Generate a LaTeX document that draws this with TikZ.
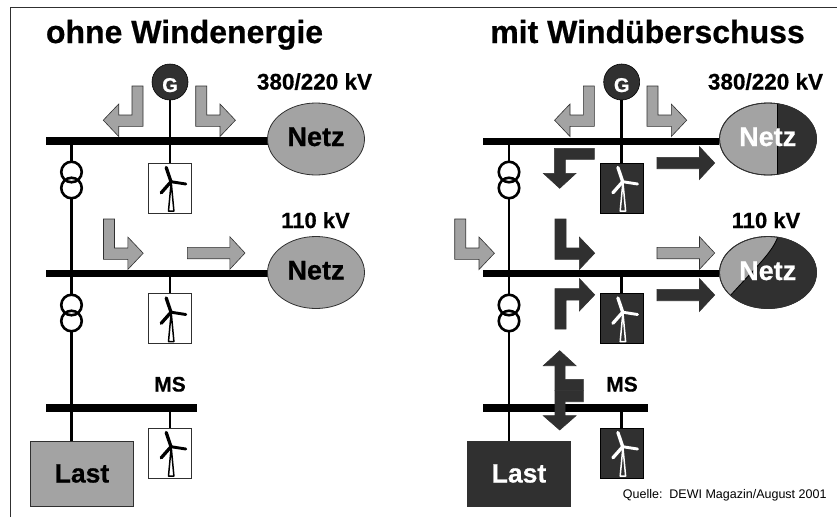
\documentclass[tikz,border=0pt]{standalone}
\usepackage{fontspec}
\setmainfont{Liberation Sans}[BoldFeatures={FakeBold=0.6}]
\definecolor{gr}{HTML}{A3A3A3}
\definecolor{dk}{HTML}{303030}
\usetikzlibrary{shapes.geometric}
\tikzset{
 busbar/.style={fill=black,draw=none,inner sep=0pt,minimum height=7.5pt,rectangle},
 wire/.style={line width=2.6pt,black},
 xfm/.style={circle,draw=black,line width=2.6pt,minimum size=20.5pt,inner sep=0pt,outer sep=0pt},
 grarrow/.style={fill=gr,draw=dk,line width=.6pt,line join=miter},
 dkarrow/.style={fill=dk,draw=dk,line width=.6pt,line join=miter},
 turbbox/.style={rectangle,draw=#1,line width=1pt,minimum width=43pt,minimum height=50pt,inner sep=0pt},
 gen/.style={circle,fill=dk,draw=black,line width=.6pt,minimum size=36pt,inner sep=0pt},
 netz/.style={ellipse,fill=gr,draw=dk,line width=.8pt,minimum width=97pt,minimum height=72pt,inner sep=0pt},
 lastbox/.style={rectangle,draw=dk,line width=.8pt,minimum width=103.5pt,minimum height=65pt,inner sep=0pt},
 lbl/.style={anchor=base,inner sep=0pt,font=\bfseries\fontsize{#1}{#1}\selectfont},
}
% turbine #1 node centre, #2 colour, #3 tower fill
\newcommand\turbine[3]{%
 \begin{scope}[shift={(#1)}]
  \draw[#2,line width=1.5pt,fill=#3,line join=round] (1.2,-6) -- (-1.5,23) -- (3.9,23) -- cycle;
  \draw[#2,line width=3.3pt,line cap=round] (1,-6.3) -- (-3.8,-20.5);
  \draw[#2,line width=2.9pt,line cap=round] (1,-6.3) -- (15.8,-4);
  \draw[#2,line width=3.3pt,line cap=round] (1,-6.3) -- (-8.8,4.8);
 \end{scope}}
\newcommand\bentarrow[5]{% style, x, y, xscale, yscale
 \draw[#1,shift={(#2,#3)},xscale=#4,yscale=#5] (0,0) -- (11,0) -- (11,29) -- (24.3,29) -- (24.3,18) -- (39.7,34.2) -- (24.3,50.5) -- (24.3,40.3) -- (0,40.3) -- cycle;}
\newcommand\straightarrow[3]{% style, x, yc
 \draw[#1,shift={(#2,#3)}] (0,-5.7) -- (42.5,-5.7) -- (42.5,-16.3) -- (57.7,0) -- (42.5,16.3) -- (42.5,5.7) -- (0,5.7) -- cycle;}
\begin{document}
\begin{tikzpicture}[x=1pt,y=-1pt]
\useasboundingbox (0,0) rectangle (837,517);
\fill[white] (0,0) rectangle (837,517);
\draw[line width=.9pt,dk] (10,517) -- (10,7.2) -- (837,7.2);

% titles
\node[lbl=32] (t1) at (184.5,43) {ohne Windenergie};
\node[lbl=32] (t2) at (647.5,43) {mit Windüberschuss};

% ---- left
\node[busbar,minimum width=224pt] (a1) at (158,141) {};
\node[busbar,minimum width=224pt] (a2) at (158,273.5) {};
\node[busbar,minimum width=151pt] (a3) at (121.5,408) {};
\coordinate (a1x) at (71.5,141); \coordinate (a2x) at (71.5,273.5); \coordinate (a3x) at (71.5,408);
\node[gen] (ag) at (170,82) {};
\node[anchor=base,inner sep=0pt,white,font=\bfseries\fontsize{20}{20}\selectfont] (agt) at (170,92) {G};
\node[turbbox=dk,fill=white] (at1) at (170,188) {};
\node[turbbox=dk,fill=white] (at2) at (170,318.5) {};
\node[turbbox=dk,fill=white] (at3) at (170,453) {};
\node[netz] (an1) at (316,139) {};
\node[netz] (an2) at (316,272.5) {};
\node[lastbox,fill=gr] (al) at (82,473.5) {};
\coordinate (alt) at (71.5,441);
\node[xfm] (ax1) at (71.5,172) {}; \node[xfm] (ax2) at (71.5,188) {};
\node[xfm] (ax3) at (71.5,305) {}; \node[xfm] (ax4) at (71.5,321) {};
\draw[wire] (ag) -- (at1);
\draw[wire] (a2.center -| at2) -- (at2);
\draw[wire] (a3.center -| at3) -- (at3);
\draw[wire] (a1x) -- (ax1.north);
\draw[wire] (ax2.south) -- (a2x);
\draw[wire] (a2x) -- (ax3.north);
\draw[wire] (ax4.south) -- (a3x);
\draw[wire] (a3x) -- (alt);
\node[lbl=27] at (316,146) {Netz};
\node[lbl=27] at (316,279.5) {Netz};
\node[lbl=26.5] at (82,482.5) {Last};
\node[lbl=22.5] at (314.5,89.5) {380/220 kV};
\node[lbl=22] at (315.5,228) {110 kV};
\node[lbl=21] at (170,391.5) {MS};
\turbine{at1.center}{black}{white}
\turbine{at2.center}{black}{white}
\turbine{at3.center}{black}{white}
\bentarrow{grarrow}{143}{86}{-1}{1}
\bentarrow{grarrow}{195.7}{86}{1}{1}
\bentarrow{grarrow}{103.5}{219}{1}{1}
\straightarrow{grarrow}{187.3}{253}

% ---- right
\node[busbar,minimum width=236pt] (b1) at (601,141.3) {};
\node[busbar,minimum width=236pt] (b2) at (601,273.7) {};
\node[busbar,minimum width=165pt] (b3) at (565.5,408) {};
\coordinate (b1x) at (509,141); \coordinate (b2x) at (509,273.5); \coordinate (b3x) at (509,408);
\node[gen] (bg) at (621.7,82) {};
\node[anchor=base,inner sep=0pt,white,font=\bfseries\fontsize{20}{20}\selectfont] (bgt) at (621.7,92) {G};
\node[turbbox=black,fill=dk] (bt1) at (621.7,188) {};
\node[turbbox=black,fill=dk] (bt2) at (621.7,318.5) {};
\node[turbbox=black,fill=dk] (bt3) at (621.7,453) {};
\node[netz] (bn1) at (768,139) {};
\node[netz] (bn2) at (768,272.5) {};
\begin{scope}
 \clip (768,139) ellipse [x radius=48.5,y radius=36];
 \fill[dk] (777.7,90) rectangle (830,190);
 \draw[black,line width=.8pt] (777.7,90) -- (777.7,190);
\end{scope}
\begin{scope}
 \clip (768,272.5) ellipse [x radius=48.5,y radius=36];
 \fill[dk] (778,236) .. controls (773,252) and (755,268) .. (729,297) -- (729,320) -- (830,320) -- (830,230) -- (778,230) -- cycle;
 \draw[black,line width=.8pt] (778,236) .. controls (773,252) and (755,268) .. (729,297);
\end{scope}
\draw[dk,line width=.8pt] (768,139) ellipse [x radius=48.5,y radius=36];
\draw[dk,line width=.8pt] (768,272.5) ellipse [x radius=48.5,y radius=36];
\node[lastbox,fill=dk] (bl) at (519,473.5) {};
\coordinate (blt) at (509,441);
\node[xfm] (bx1) at (509,172) {}; \node[xfm] (bx2) at (509,188) {};
\node[xfm] (bx3) at (509,305) {}; \node[xfm] (bx4) at (509,321) {};
\draw[wire] (bg) -- (bt1);
\draw[wire] (b2.center -| bt2) -- (bt2);
\draw[wire] (b3.center -| bt3) -- (bt3);
\draw[wire] (b1x) -- (bx1.north);
\draw[wire] (bx2.south) -- (b2x);
\draw[wire] (b2x) -- (bx3.north);
\draw[wire] (bx4.south) -- (b3x);
\draw[wire] (b3x) -- (blt);
\node[lbl=27,white] at (767.7,146) {Netz};
\node[lbl=27,white] at (767.7,280) {Netz};
\node[lbl=26.5,white] at (519,482.5) {Last};
\node[lbl=22.5] at (765.5,89.5) {380/220 kV};
\node[lbl=22] at (766,228) {110 kV};
\node[lbl=21] at (622,391.5) {MS};
\node[anchor=base west,inner sep=0pt,font=\fontsize{12.5}{13}\selectfont] at (622.7,498) {Quelle:\ \ DEWI Magazin/August 2001};
\turbine{bt1.center}{white}{dk}
\turbine{bt2.center}{white}{dk}
\turbine{bt3.center}{white}{dk}
\bentarrow{grarrow}{594.3}{86}{-1}{1}
\bentarrow{grarrow}{647}{86}{1}{1}
\bentarrow{grarrow}{454.7}{219}{1}{1}
\bentarrow{dkarrow}{555}{219}{1}{1}
\bentarrow{dkarrow}{555}{329}{1}{-1}
\straightarrow{dkarrow}{657}{163}
\straightarrow{grarrow}{657}{253}
\straightarrow{dkarrow}{657}{295}
\draw[dkarrow] (594.3,148.3) -- (554.3,148.3) -- (554.3,173.3) -- (543.3,173.3) -- (559.7,188.3) -- (576,173.3) -- (565.3,173.3) -- (565.3,159.3) -- (594.3,159.3) -- cycle;
% double arrow
\draw[dkarrow] (555,390.3) -- (555,365.7) -- (543.3,365.7) -- (559.7,350.7) -- (576,365.7) -- (565,365.7) -- (565,379.3) -- (583.3,379.3) -- (583.3,390.3) -- cycle;
\draw[dkarrow] (555,390.3) -- (555,415.7) -- (543.3,415.7) -- (559.7,430) -- (576,415.7) -- (565,415.7) -- (565,401.7) -- (583.3,401.7) -- (583.3,390.3) -- cycle;
\end{tikzpicture}
\end{document}
